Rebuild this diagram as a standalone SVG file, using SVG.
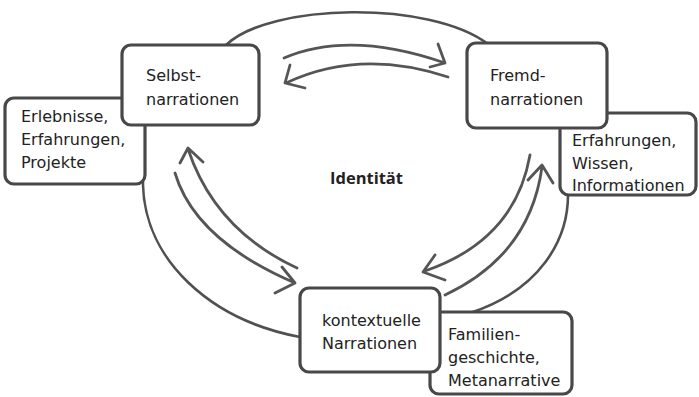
<svg xmlns="http://www.w3.org/2000/svg" width="699" height="397" viewBox="0 0 699 397">
<defs>
<style>
.box{fill:#ffffff;stroke:#484848;stroke-width:3.2}
.arc{fill:none;stroke:#505050;stroke-width:2.6;stroke-linecap:round;stroke-linejoin:round}
.arr{fill:none;stroke:#555555;stroke-width:2.8;stroke-linecap:round;stroke-linejoin:round}
.t{font-family:"DejaVu Sans","Open Sans",sans-serif;font-size:16px;fill:#222222}
.b{font-family:"Open Sans","DejaVu Sans",sans-serif;font-size:16.5px;font-weight:bold;fill:#222222}
</style>
</defs>
<rect width="699" height="397" fill="#ffffff"/>
<g id="connectors">
<path class="arc" d="M226,45 C270,3 430,0 488,44"/>
<path class="arc" d="M143,125 L143,185 C145,260 210,320 300,337"/>
<path class="arc" d="M568,195 C568,240 540,290 470,313"/>
<path class="arr" d="M284,58 Q350,30 445,63 M438,44 L445,63 L430,67"/>
<path class="arr" d="M448,77 Q360,48 286,83 M290,65 L285,83 L305,88"/>
<path class="arr" d="M175,173 Q195,240 295,283 M282,267 L295,283 L275,293"/>
<path class="arr" d="M297,268 Q215,230 188,149 M180,163 L188,148 L203,162"/>
<path class="arr" d="M530,155 Q515,240 425,271 M435,255 L423,272 L445,280"/>
<path class="arr" d="M445,295 Q530,255 542,167 M528,180 L542,165 L553,183"/>
</g>
<g id="erlebnisse">
<rect class="box" x="5" y="98" width="140" height="86" rx="9"/>
<text class="t" x="21" y="122">Erlebnisse,</text>
<text class="t" x="21" y="145">Erfahrungen,</text>
<text class="t" x="21" y="168">Projekte</text>
</g>
<g id="selbst">
<rect class="box" x="122" y="45" width="137" height="80" rx="9"/>
<text class="t" x="146" y="81">Selbst-</text>
<text class="t" x="146" y="105">narrationen</text>
</g>
<g id="erfahrungen">
<rect class="box" x="560" y="113" width="136" height="82" rx="9"/>
<text class="t" x="572" y="146">Erfahrungen,</text>
<text class="t" x="572" y="169">Wissen,</text>
<text class="t" x="572" y="191">Informationen</text>
</g>
<g id="fremd">
<rect class="box" x="467" y="43" width="140" height="85" rx="9"/>
<text class="t" x="490" y="81">Fremd-</text>
<text class="t" x="490" y="105">narrationen</text>
</g>
<g id="familien">
<rect class="box" x="430" y="312" width="142" height="82" rx="9"/>
<text class="t" x="448" y="340">Familien-</text>
<text class="t" x="448" y="363">geschichte,</text>
<text class="t" x="448" y="386">Metanarrative</text>
</g>
<g id="kontextuelle">
<rect class="box" x="300" y="288" width="140" height="84" rx="9"/>
<text class="t" x="322" y="326">kontextuelle</text>
<text class="t" x="322" y="349">Narrationen</text>
</g>
<g id="identitaet">
<text class="b" x="330" y="184">Identität</text>
</g>
</svg>
